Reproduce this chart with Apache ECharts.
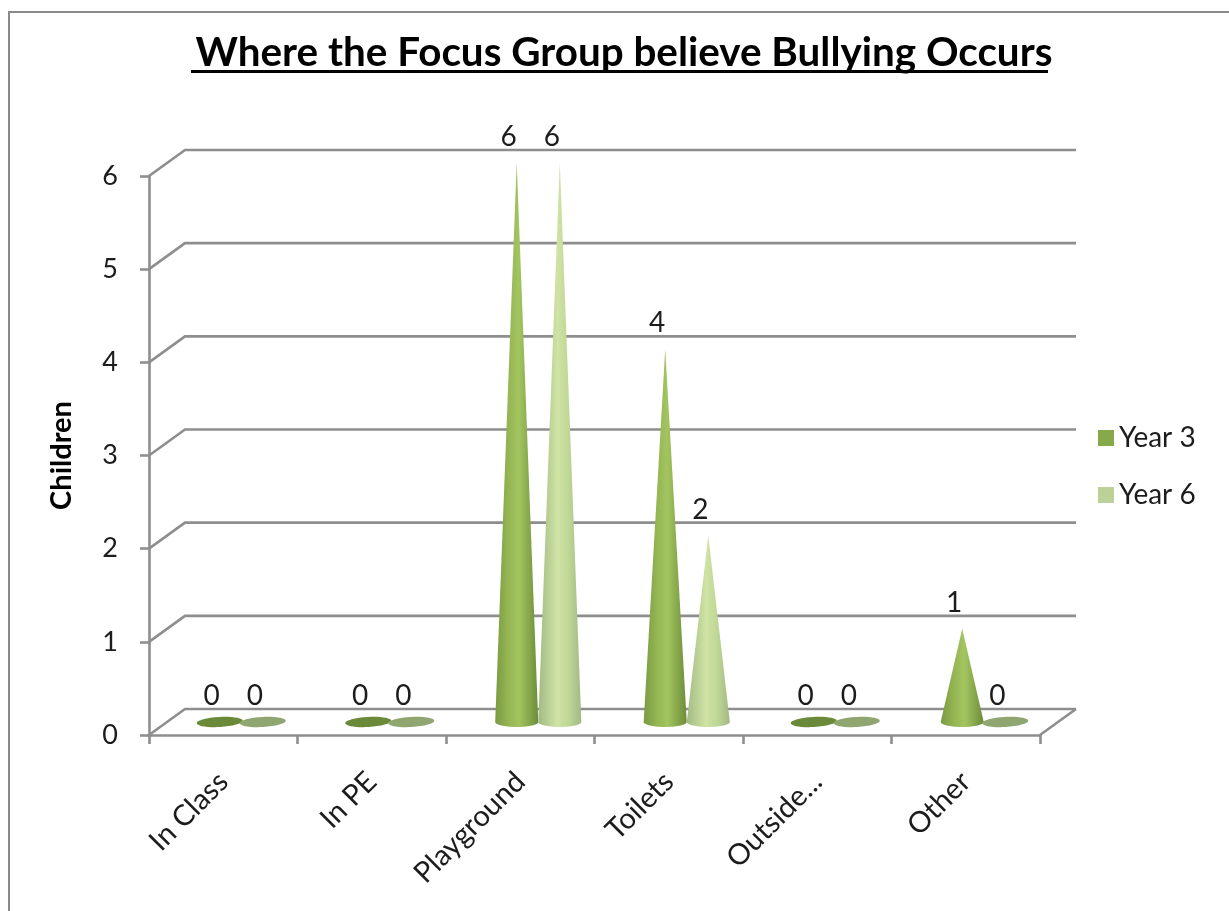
<!DOCTYPE html>
<html>
<head>
<meta charset="utf-8">
<title>Where the Focus Group believe Bullying Occurs</title>
<script src="https://cdn.jsdelivr.net/npm/echarts@6/dist/echarts.min.js"></script>
<style>
  html, body { margin: 0; padding: 0; background: #fff; }
  #chart { width: 1229px; height: 911px; }
</style>
</head>
<body>
<div id="chart"></div>
<script>
const categories = ['In Class', 'In PE', 'Playground', 'Toilets', 'Outside...', 'Other'];
const year3 = [0, 0, 6, 4, 0, 1];
const year6 = [0, 0, 6, 2, 0, 0];
const yTicks = [0, 1, 2, 3, 4, 5, 6];

const FONT = 'Lato, "Open Sans", sans-serif';
const GRID_COLOR = '#8e8e8e';
const TEXT_COLOR = '#1c1c1c';
// Pseudo-3D floor depth, in pixels
const DEPTH_X = 36;
const DEPTH_Y = -26;

const chart = echarts.init(document.getElementById('chart'), null, { renderer: 'canvas' });

// Back wall gridlines plus the slanted side-wall and floor edges
function renderWall(params, api) {
  const sys = params.coordSys;
  const y = api.coord([0, api.value(0)])[1];
  const left = sys.x;
  const right = sys.x + sys.width;
  const style = { stroke: GRID_COLOR, lineWidth: 2.6, fill: null };
  const children = [{
    type: 'polyline',
    shape: { points: [[left, y], [left + DEPTH_X, y + DEPTH_Y], [right + DEPTH_X, y + DEPTH_Y]] },
    style
  }];
  if (api.value(0) === 0) {
    children.push({
      type: 'line',
      shape: { x1: right, y1: y, x2: right + DEPTH_X, y2: y + DEPTH_Y },
      style
    });
  }
  return { type: 'group', children };
}

function horizontalGradient(stops) {
  return new echarts.graphic.LinearGradient(0, 0, 1, 0, stops.map((c, i) => ({ offset: c[0], color: c[1] })));
}

// Builds the cone (or flat disc for a zero value) of one series
function coneRenderer(side, coneStops, discColor) {
  return function (params, api) {
    const bandWidth = api.size([1, 0])[0];
    const r = bandWidth * 0.145;
    const base = api.coord([api.value(0), 0]);
    const tip = api.coord([api.value(0), api.value(1)]);
    const cx = base[0] + DEPTH_X / 2 + side * r;
    const cy = base[1] + DEPTH_Y / 2;
    const tipY = tip[1] + DEPTH_Y / 2;
    const ry = 5;
    const value = api.value(1);
    const children = [];

    if (value === 0) {
      children.push({
        type: 'ellipse',
        shape: { cx: 0, cy: 0, rx: r + 1.5, ry: ry },
        x: cx, y: cy, rotation: 0.05,
        style: { fill: discColor }
      });
    } else {
      const pts = [[cx, tipY]];
      for (let i = 0; i <= 36; i++) {
        const a = Math.PI * i / 36;
        pts.push([cx + r * Math.cos(a), cy + ry * Math.sin(a)]);
      }
      children.push({
        type: 'polygon',
        shape: { points: pts },
        style: { fill: horizontalGradient(coneStops) }
      });
    }
    children.push({
      type: 'text',
      x: cx - 8,
      y: tipY - 26,
      style: {
        text: String(value),
        font: '28px ' + FONT,
        fill: TEXT_COLOR,
        align: 'center',
        verticalAlign: 'middle'
      }
    });
    return { type: 'group', children };
  };
}

const year3Stops = [[0, '#7a9a43'], [0.3, '#94b552'], [0.55, '#a3c560'], [0.8, '#85a64a'], [1, '#6d8b39']];
const year6Stops = [[0, '#a2ba84'], [0.45, '#cfe3a4'], [0.72, '#bed694'], [1, '#a1b885']];

chart.setOption({
  animation: false,
  backgroundColor: '#ffffff',
  title: {
    text: 'Where the Focus Group believe Bullying Occurs',
    left: 619,
    top: 28,
    textAlign: 'center',
    textStyle: { fontFamily: FONT, fontSize: 40.4, fontWeight: 'bold', color: '#000000' }
  },
  graphic: [
    // Title underline
    { type: 'rect', shape: { x: 191, y: 70, width: 857, height: 3 }, style: { fill: '#000' } },
    // Chart frame
    { type: 'polyline', shape: { points: [[9, 911], [9, 12], [1229, 12]] },
      style: { stroke: '#8a8a8a', lineWidth: 2, fill: null } }
  ],
  legend: {
    data: ['Year 3', 'Year 6'],
    orient: 'vertical',
    left: 1093,
    top: 419,
    icon: 'rect',
    itemWidth: 16,
    itemHeight: 16,
    itemGap: 29,
    textStyle: { fontFamily: FONT, fontSize: 28, color: TEXT_COLOR }
  },
  grid: { left: 149, right: 189, top: 176, bottom: 176 },
  xAxis: {
    type: 'category',
    data: categories,
    axisLine: { lineStyle: { color: GRID_COLOR, width: 2.6 } },
    axisTick: { show: true, alignWithLabel: false, length: 9, lineStyle: { color: GRID_COLOR, width: 2.6 } },
    axisLabel: { rotate: 45, margin: 42, interval: 0, fontFamily: FONT, fontSize: 29, color: TEXT_COLOR },
    splitLine: { show: false }
  },
  yAxis: {
    type: 'value',
    min: 0,
    max: 6,
    interval: 1,
    name: 'Children',
    nameLocation: 'middle',
    nameGap: 73,
    nameTextStyle: { fontFamily: FONT, fontSize: 29, fontWeight: 'bold', color: '#000' },
    axisLine: { show: true, lineStyle: { color: GRID_COLOR, width: 2.6 } },
    axisTick: { show: true, length: 9, lineStyle: { color: GRID_COLOR, width: 2.6 } },
    axisLabel: { margin: 31, fontFamily: FONT, fontSize: 27, color: TEXT_COLOR },
    splitLine: { show: false }
  },
  series: [
    {
      name: 'Walls',
      type: 'custom',
      silent: true,
      z: 1,
      renderItem: renderWall,
      data: yTicks.map(v => [v]),
      encode: { y: 0 }
    },
    {
      name: 'Year 3',
      type: 'custom',
      z: 3,
      itemStyle: { color: '#86a94a' },
      renderItem: coneRenderer(-1, year3Stops, '#6a8a39'),
      data: year3.map((v, i) => [i, v]),
      encode: { x: 0, y: 1 }
    },
    {
      name: 'Year 6',
      type: 'custom',
      z: 4,
      itemStyle: { color: '#bbd197' },
      renderItem: coneRenderer(1, year6Stops, '#8fa671'),
      data: year6.map((v, i) => [i, v]),
      encode: { x: 0, y: 1 }
    }
  ]
});
</script>
</body>
</html>
